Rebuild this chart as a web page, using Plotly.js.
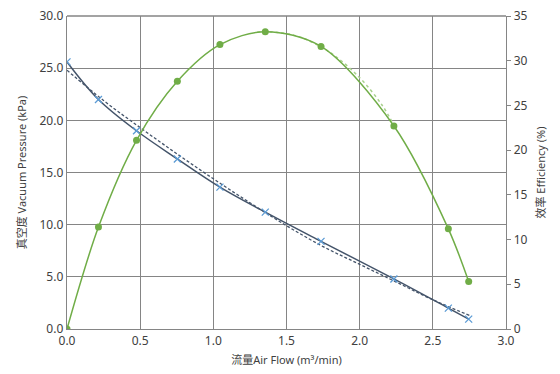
<!DOCTYPE html>
<html><head><meta charset="utf-8">
<script src="https://cdn.plot.ly/plotly-3.0.1.min.js"></script>
<style>html,body{margin:0;padding:0;background:#fff}#c{width:560px;height:374px}</style>
</head><body><div id="c"></div>
<script>
const flow = [0, 0.215, 0.475, 0.754, 1.045, 1.355, 1.736, 2.234, 2.606, 2.745];
const pressure = [25.6, 22.0, 19.0, 16.3, 13.6, 11.2, 8.4, 4.8, 2.0, 0.95];
const efficiency = [0, 11.4, 21.1, 27.7, 31.8, 33.25, 31.6, 22.7, 11.2, 5.3];
const trendFlow = [0, 0.25, 0.5, 0.75, 1.0, 1.25, 1.5, 1.75, 2.0, 2.25, 2.5, 2.75];
const pressureTrend = [24.8, 21.9, 19.3, 16.8, 14.4, 12.1, 9.9, 7.9, 6.2, 4.5, 2.8, 1.3];
const effTrendFlow = [1.3, 1.45, 1.6, 1.8, 2.0, 2.15, 2.234];
const effTrend = [33.2, 33.15, 32.6, 30.9, 28.1, 25.1, 22.8];
const xTicks = [0, 0.5, 1.0, 1.5, 2.0, 2.5, 3.0];

const green = '#70ad47', navy = '#44546a', lblue = '#5b9bd5';
const font = '"Noto Sans", "Noto Sans CJK SC", sans-serif';

const traces = [
  {x: trendFlow, y: pressureTrend, mode: 'lines', line: {color: navy, width: 1.3, dash: '3px,2px', shape: 'spline'}, hoverinfo: 'skip'},
  {x: flow, y: pressure, mode: 'lines+markers', line: {color: navy, width: 1.5, shape: 'spline'},
   marker: {symbol: 'x-thin-open', size: 7, color: lblue, line: {color: lblue, width: 1.3}}},
  {x: effTrendFlow, y: effTrend, yaxis: 'y2', mode: 'lines', line: {color: '#a9d18e', width: 1.5, dash: 'dot', shape: 'spline'}, hoverinfo: 'skip'},
  {x: flow, y: efficiency, yaxis: 'y2', mode: 'lines+markers', line: {color: green, width: 1.5, shape: 'spline', smoothing: 0.9},
   marker: {symbol: 'circle', size: 7, color: green}}
];

const layout = {
  width: 560, height: 374,
  margin: {l: 67, r: 54, t: 16, b: 45},
  showlegend: false,
  paper_bgcolor: '#fff', plot_bgcolor: '#fff',
  font: {family: font, size: 12, color: '#404040'},
  xaxis: {range: [0, 3], tickvals: xTicks, ticktext: xTicks.map(v => v.toFixed(1)),
    showgrid: true, gridcolor: '#858585', gridwidth: 1.3, zeroline: false,
    showline: true, linecolor: '#858585', linewidth: 1.3, mirror: false, ticks: '',
    tickfont: {size: 12, color: '#404040'},
    title: {text: '流量Air Flow (m³/min)', font: {size: 11, color: '#404040'}, standoff: 8}},
  yaxis: {range: [0, 30], dtick: 5, tickformat: '.1f',
    showgrid: true, gridcolor: '#858585', gridwidth: 1.3, zeroline: false,
    showline: true, linecolor: '#858585', linewidth: 1.3, ticks: '',
    tickfont: {size: 12, color: '#404040'},
    title: {text: '真空度 Vacuum Pressure (kPa)', font: {size: 11, color: '#404040'}, standoff: 10}},
  yaxis2: {range: [0, 35], dtick: 5, overlaying: 'y', side: 'right',
    showgrid: false, zeroline: false, showline: true, linecolor: '#858585', linewidth: 1.3,
    ticks: 'outside', ticklen: 4, tickcolor: '#858585',
    tickfont: {size: 12, color: '#404040'},
    title: {text: '效率 Efficiency (%)', font: {size: 11, color: '#404040'}, standoff: 10}},
  shapes: [{type: 'line', xref: 'paper', yref: 'paper', x0: 0, x1: 1, y0: 1, y1: 1, line: {color: '#858585', width: 1.3}}]
};
Plotly.newPlot('c', traces, layout, {staticPlot: true, displayModeBar: false});
</script></body></html>
